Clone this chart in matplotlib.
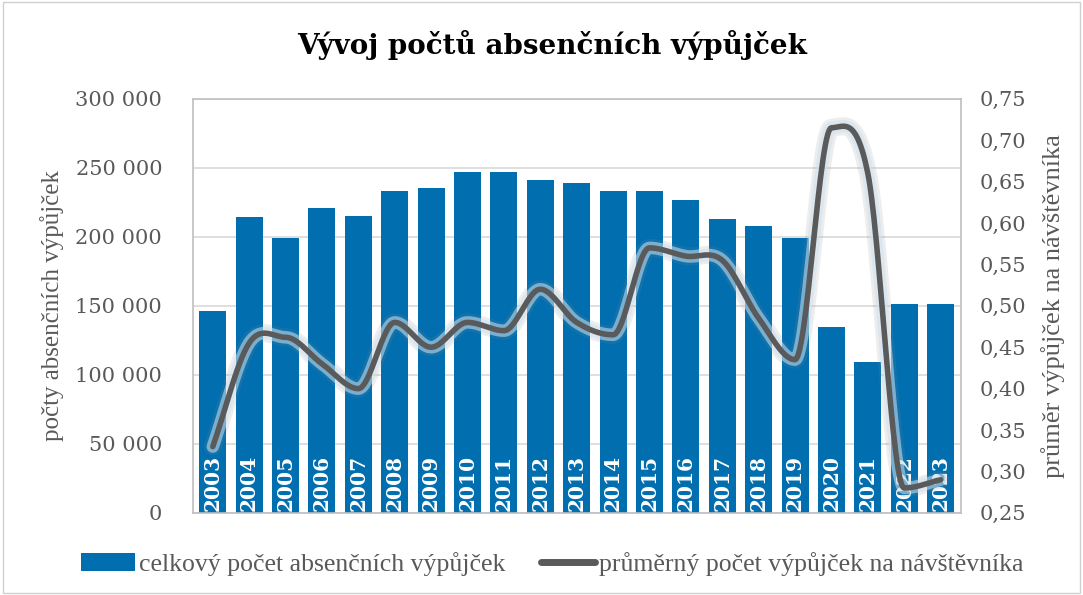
import numpy as np
import matplotlib
matplotlib.use("Agg")
from matplotlib import pyplot as plt
from matplotlib import patheffects as pe
from matplotlib.ticker import FuncFormatter, MultipleLocator
from matplotlib.lines import Line2D
from matplotlib.patches import Patch, Rectangle

years = list(range(2003, 2024))
loans = [146000, 214000, 199000, 221000, 215000, 233000, 235000, 247000, 247000, 241000,
         239000, 233000, 233000, 227000, 213000, 208000, 199000, 135000, 109000, 151000, 151000]
per_visitor = [0.33, 0.455, 0.462, 0.43, 0.40, 0.48, 0.45, 0.48, 0.47, 0.52,
               0.48, 0.465, 0.57, 0.56, 0.555, 0.485, 0.435, 0.715, 0.66, 0.28, 0.29]

bar_color = "#006eaf"
line_color = "#5a5a5a"
text_color = "#595959"
serif = ["DejaVu Serif"]


# smoothed line: cubic hermite through the points, flat tangents at local extremes
def smooth(x, y, n=30):
    x = np.asarray(x, float)
    y = np.asarray(y, float)
    m = np.zeros_like(y)
    for i in range(len(y)):
        a = y[max(i - 1, 0)]
        b = y[min(i + 1, len(y) - 1)]
        if 0 < i < len(y) - 1 and (y[i] - a) * (b - y[i]) <= 0:
            m[i] = 0
        else:
            m[i] = (b - a) / (min(i + 1, len(y) - 1) - max(i - 1, 0))
    xs, ys = [], []
    t = np.linspace(0, 1, n, endpoint=False)
    for i in range(len(y) - 1):
        h00 = 2 * t ** 3 - 3 * t ** 2 + 1
        h10 = t ** 3 - 2 * t ** 2 + t
        h01 = -2 * t ** 3 + 3 * t ** 2
        h11 = t ** 3 - t ** 2
        xs.extend(x[i] + t)
        ys.extend(h00 * y[i] + h10 * m[i] + h01 * y[i + 1] + h11 * m[i + 1])
    xs.append(x[-1])
    ys.append(y[-1])
    return np.array(xs), np.array(ys)


fig = plt.figure(figsize=(10.83, 5.95), dpi=100)
fig.patches.append(Rectangle((0.003, 0.003), 0.994, 0.994, transform=fig.transFigure,
                             fill=False, edgecolor="#d0d0d0", linewidth=1))

ax = fig.add_axes([0.178, 0.138, 0.709, 0.696])
x = np.arange(len(years))
ax.bar(x, loans, width=0.74, color=bar_color, zorder=2)
ax.set_ylim(0, 300000)
ax.set_xlim(-0.55, len(years) - 0.45)
ax.yaxis.set_major_locator(MultipleLocator(50000))
ax.yaxis.set_major_formatter(FuncFormatter(lambda v, p: f"{int(v):,}".replace(",", " ")))
ax.grid(axis="y", color="#d9d9d9", linewidth=1.2, zorder=0)
ax.set_xticks([])
ax.tick_params(axis="y", length=0, labelsize=15, labelcolor=text_color, pad=22)
for lab in ax.get_yticklabels():
    lab.set_fontfamily(serif)
for s in ["left", "right", "top", "bottom"]:
    ax.spines[s].set_color("#bfbfbf")
    ax.spines[s].set_linewidth(1.2)
ax.set_ylabel("počty absenčních výpůjček", fontsize=18, color=text_color,
              family=["Liberation Serif"], labelpad=8)

for xi, yr in zip(x, years):
    ax.text(xi, 1200, str(yr), rotation=90, ha="center", va="bottom", color="white",
            fontsize=14.5, fontweight="bold", family=serif, zorder=3)

ax2 = ax.twinx()
ax2.set_ylim(0.25, 0.75)
ax2.yaxis.set_major_locator(MultipleLocator(0.05))
ax2.yaxis.set_major_formatter(FuncFormatter(lambda v, p: f"{v:.2f}".replace(".", ",")))
ax2.tick_params(axis="y", length=0, labelsize=15, labelcolor=text_color, pad=14)
for lab in ax2.get_yticklabels():
    lab.set_fontfamily(serif)
for s in ["left", "right", "top", "bottom"]:
    ax2.spines[s].set_visible(False)
ax2.set_ylabel("průměr výpůjček na návštěvníka", fontsize=19, color=text_color,
               family=["Liberation Serif"], rotation=90, labelpad=10)

sx, sy = smooth(x, per_visitor)
ax2.plot(sx, sy, color=line_color, linewidth=4, solid_capstyle="round", zorder=5,
         path_effects=[pe.Stroke(linewidth=13, foreground="#8a8a8a", alpha=0.15),
                       pe.Stroke(linewidth=9, foreground="#cfe2ef", alpha=0.55),
                       pe.Normal()])

fig.text(0.51, 0.925, "Vývoj počtů absenčních výpůjček", ha="center", va="center",
         fontsize=20, fontweight="bold", family=serif, color="black")

handles = [Patch(facecolor=bar_color, edgecolor="none"),
           Line2D([0], [0], color=line_color, linewidth=5, solid_capstyle="round")]
labels = ["celkový počet absenčních výpůjček", "průměrný počet výpůjček na návštěvníka"]
leg = fig.legend(handles, labels, loc="center", bbox_to_anchor=(0.51, 0.052), ncol=2,
                 frameon=False, prop={"family": "Liberation Serif", "size": 18.5},
                 handlelength=2.1, handletextpad=0.15, columnspacing=1.4)
for t in leg.get_texts():
    t.set_color(text_color)

fig.savefig("out.png", dpi=100)
